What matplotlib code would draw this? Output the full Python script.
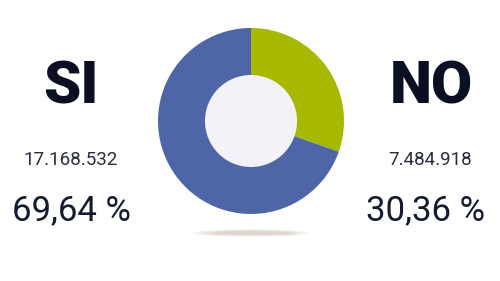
import matplotlib
matplotlib.use("Agg")
import matplotlib.pyplot as plt
from matplotlib.patches import Ellipse, Circle

labels = ["SI", "NO"]
votes = [17168532, 7484918]
vote_labels = ["17.168.532", "7.484.918"]
pct_labels = ["69,64 %", "30,36 %"]
colors = ["#4e66a8", "#a6b800"]

W, H = 500, 281
fig = plt.figure(figsize=(W / 100, H / 100), dpi=100)
fig.patch.set_facecolor("white")

def fx(x):
    return x / W

def fy(y):
    return 1 - y / H

# shadow
for i, a in enumerate([0.10, 0.12, 0.15, 0.2]):
    e = Ellipse((fx(251), fy(233)), width=(118 - i * 12) / W, height=(8 - i * 1.5) / H,
                transform=fig.transFigure, facecolor="#b8aa90", edgecolor="none", alpha=a)
    fig.patches.append(e)

# donut
cx, cy, r = 251, 121, 93
ax = fig.add_axes([fx(cx - r), fy(cy + r), 2 * r / W, 2 * r / H])
ax.pie([votes[1], votes[0]], colors=[colors[1], colors[0]], startangle=90,
       counterclock=False, radius=1.0, wedgeprops=dict(width=1.0, edgecolor="none"))
ax.add_patch(Circle((0, 0), 0.495, facecolor="#f3f2f9", edgecolor="none", zorder=5))
ax.set_xlim(-1, 1)
ax.set_ylim(-1, 1)
ax.set_aspect("equal")
ax.axis("off")

# texts
xs = [71, 431]
for i in range(2):
    fig.text(fx(xs[i]), fy(87), labels[i], ha="center", va="center",
             fontsize=43, fontweight="heavy", family="Roboto", color="#0b0f22")
    fig.text(fx(xs[i] - (0 if i == 0 else 1)), fy(160), vote_labels[i], ha="center", va="center",
             fontsize=13.5, family="Roboto", fontweight="normal", color="#2a2d3a")
    fig.text(fx(xs[i] - (0 if i == 0 else 5)), fy(211), pct_labels[i], ha="center", va="center",
             fontsize=25, family="Roboto", fontweight="normal", color="#141a30")

fig.savefig("out.png", dpi=100)
